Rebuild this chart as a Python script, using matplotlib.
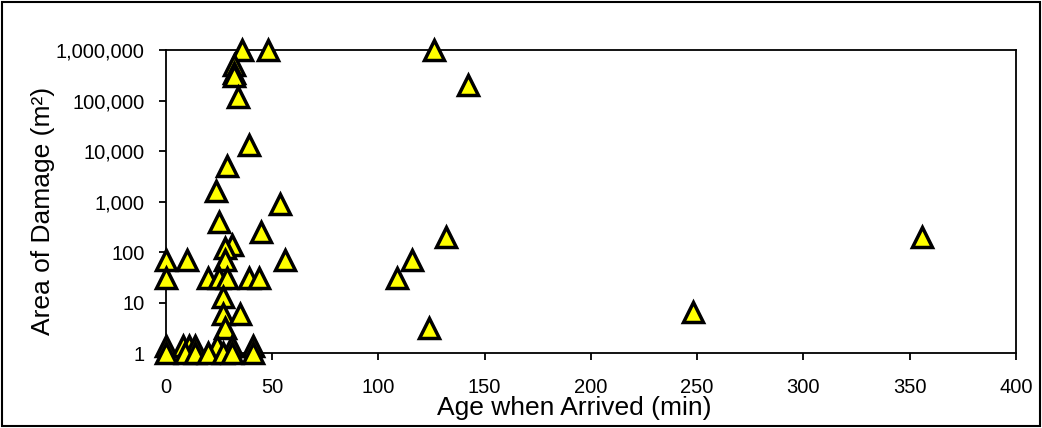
import matplotlib.pyplot as plt
from matplotlib.patches import Rectangle
from matplotlib.ticker import FuncFormatter, FixedLocator

plt.rcParams['font.family'] = ['Liberation Sans', 'DejaVu Sans']

# age when arrived (min) and area of damage (m^2)
age = [36, 48, 126, 32, 32, 32, 34, 142,
       39, 29, 23.5, 54, 25, 45, 31, 28,
       0, 10, 28, 56,
       0, 20, 25, 29, 39, 44,
       27, 27, 35, 28,
       0, 8, 11, 14, 24, 31, 41,
       0, 9, 14, 20, 27, 31, 41,
       109, 116, 132, 124, 248, 356]
area = [1e6, 1e6, 1e6, 500000, 350000, 300000, 120000, 200000,
        13000, 5000, 1600, 900, 400, 250, 140, 120,
        70, 70, 70, 70,
        30, 30, 30, 30, 30, 30,
        13, 6, 6, 3.2,
        1.4, 1.4, 1.4, 1.4, 1.4, 1.4, 1.4,
        1, 1, 1, 1, 1, 1, 1,
        30, 70, 200, 3.2, 6.5, 200]

xticks = [0, 50, 100, 150, 200, 250, 300, 350, 400]
yticks = [1, 10, 100, 1000, 10000, 100000, 1000000]

fig = plt.figure(figsize=(10.42, 4.28), dpi=100)
ax = fig.add_axes([0.159, 0.175, 0.816, 0.708])

ax.plot(age, area, linestyle='none', marker='^', markersize=14,
        markerfacecolor='#ffff00', markeredgecolor='black',
        markeredgewidth=2.5, clip_on=False, zorder=5)

ax.set_yscale('log')
ax.set_xlim(0, 400)
ax.set_ylim(1, 1e6)
ax.set_xticks(xticks)
ax.yaxis.set_major_locator(FixedLocator(yticks))
ax.yaxis.set_minor_locator(FixedLocator([]))
ax.yaxis.set_major_formatter(FuncFormatter(lambda v, p: f'{v:,.0f}'))

for s in ax.spines.values():
    s.set_linewidth(1.3)
ax.tick_params(direction='out', length=5, width=1.3, labelsize=14.5)
ax.tick_params(axis='x', pad=13)
ax.tick_params(axis='y', pad=10)
ax.set_xlabel('Age when Arrived (min)', fontsize=19)
ax.set_ylabel('Area of Damage (m²)', fontsize=19)
ax.xaxis.set_label_coords(0.481, -0.143)
ax.yaxis.set_label_coords(-0.13, 0.47)

fig.patches.append(Rectangle((0.002, 0.004), 0.996, 0.992, transform=fig.transFigure,
                             fill=False, edgecolor='black', linewidth=1.5))

fig.savefig('out.png', dpi=100)
